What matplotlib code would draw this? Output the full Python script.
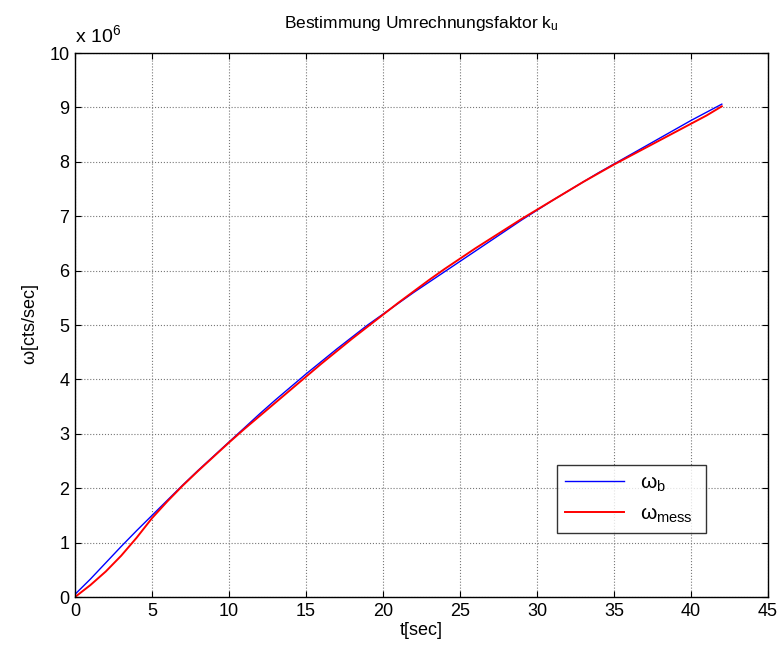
import matplotlib
matplotlib.use("Agg")
import matplotlib.pyplot as plt

plt.rcParams['font.family'] = ['Liberation Sans', 'DejaVu Sans']
plt.rcParams['mathtext.fontset'] = 'custom'
plt.rcParams['mathtext.rm'] = 'Liberation Sans'
plt.rcParams['mathtext.it'] = 'Liberation Sans'

# time [sec]
t = list(range(0, 43))
# omega_b (x 1e6 cts/sec)
omega_b = [0.05, 0.33, 0.63, 0.93, 1.22, 1.50, 1.78, 2.06, 2.33, 2.59,
           2.85, 3.11, 3.37, 3.62, 3.86, 4.10, 4.33, 4.56, 4.78, 5.00,
           5.20, 5.40, 5.60, 5.79, 5.98, 6.17, 6.36, 6.55, 6.74, 6.93,
           7.11, 7.29, 7.46, 7.63, 7.80, 7.96, 8.12, 8.28, 8.44, 8.60,
           8.76, 8.91, 9.06]
# omega_mess (x 1e6 cts/sec)
omega_mess = [0.00, 0.22, 0.47, 0.76, 1.09, 1.45, 1.76, 2.05, 2.32, 2.58,
              2.84, 3.09, 3.33, 3.57, 3.81, 4.05, 4.29, 4.52, 4.75, 4.97,
              5.19, 5.41, 5.62, 5.83, 6.03, 6.22, 6.41, 6.59, 6.77, 6.95,
              7.12, 7.29, 7.46, 7.63, 7.79, 7.95, 8.10, 8.25, 8.40, 8.55,
              8.70, 8.85, 9.02]

xticks = list(range(0, 46, 5))
yticks = list(range(0, 11))

fig = plt.figure(figsize=(7.79, 6.56), dpi=100)
ax = fig.add_axes([0.0963, 0.0899, 0.8896, 0.8293])

ax.plot(t, omega_b, color='#0000ff', lw=1.0, label=r'$\omega_{\mathrm{b}}$')
ax.plot(t, omega_mess, color='#ff0000', lw=1.4, label=r'$\omega_{\mathrm{mess}}$')

ax.set_xlim(0, 45)
ax.set_ylim(0, 10)
ax.set_xticks(xticks)
ax.set_yticks(yticks)
ax.tick_params(direction='in', length=4, width=0.8, top=True, right=True,
               labelsize=13, pad=4, colors='black')
ax.grid(True, linestyle=':', color='#777777', linewidth=0.8)
for s in ax.spines.values():
    s.set_linewidth(1.0)

ax.set_title('Bestimmung Umrechnungsfaktor k$_{\\mathrm{u}}$', fontsize=12.5, pad=18)
ax.set_xlabel('t[sec]', fontsize=13, labelpad=2)
ax.set_ylabel(r'$\omega$[cts/sec]', fontsize=13, labelpad=6)
ax.text(0.0, 1.012, 'x 10$^{\\mathrm{6}}$', transform=ax.transAxes, fontsize=14,
        ha='left', va='bottom')

leg = ax.legend(loc='lower left', bbox_to_anchor=(0.6955, 0.1176, 0.215, 0.122),
                mode='expand', fontsize=15, frameon=True, fancybox=False,
                edgecolor='black', handlelength=2.8, borderaxespad=0,
                labelspacing=0.5, borderpad=0.4)
leg.get_frame().set_linewidth(1.0)

fig.savefig('out.png', dpi=100)
